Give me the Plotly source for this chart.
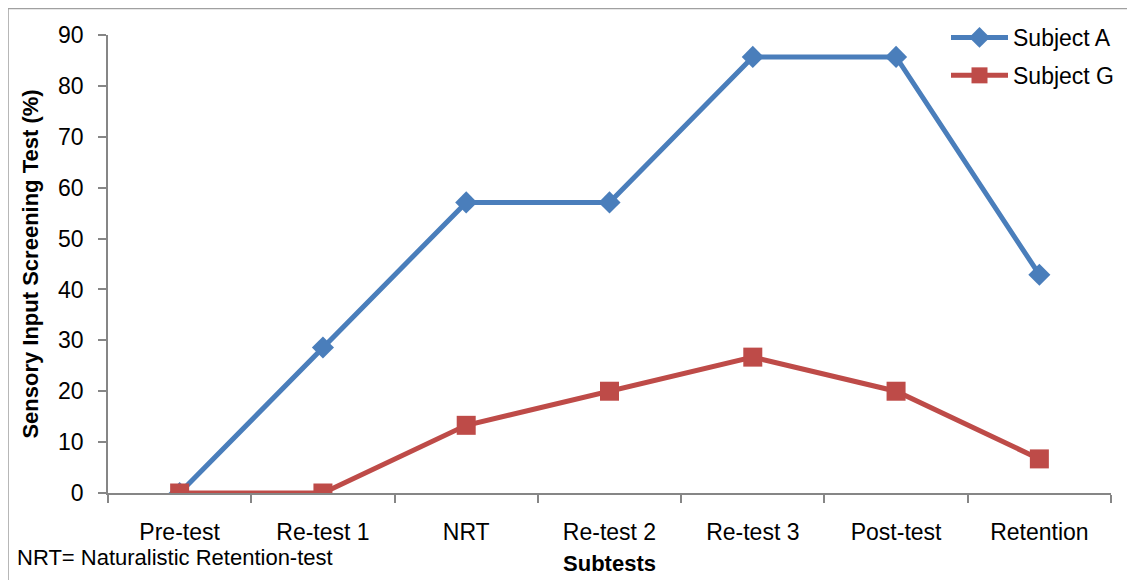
import plotly.graph_objects as go

categories = ["Pre-test", "Re-test 1", "NRT", "Re-test 2", "Re-test 3", "Post-test", "Retention"]
subject_a = [0, 28.6, 57.1, 57.1, 85.7, 85.7, 42.9]
subject_g = [0, 0, 13.3, 20.0, 26.7, 20.0, 6.7]
y_ticks = [0, 10, 20, 30, 40, 50, 60, 70, 80, 90]

FONT = "Liberation Sans"
# page has an 8px body margin, so the figure is drawn 8px smaller and offset
W, H = 1127, 572
L, R, T, B = 100, 24, 27, 87
pw, ph = W - L - R, H - T - B

def px(x):
    return (x - L) / pw

def py(y):
    return (H - B - y) / ph

fig = go.Figure()
fig.add_trace(go.Scatter(
    x=categories, y=subject_a, name="Subject A", mode="lines+markers",
    line=dict(color="#4A7EBB", width=5),
    marker=dict(symbol="diamond", size=17, color="#4A7EBB"),
    legendgroup="a",
))
fig.add_trace(go.Scatter(
    x=categories, y=subject_g, name="Subject G", mode="lines+markers",
    line=dict(color="#BE4B48", width=5),
    marker=dict(symbol="square", size=19, color="#BE4B48"),
    legendgroup="g",
))

fig.update_layout(
    width=W, height=H,
    margin=dict(l=L, r=R, t=T, b=B, autoexpand=False),
    paper_bgcolor="white", plot_bgcolor="white",
    font=dict(family=FONT, size=23, color="black"),
    showlegend=True,
    legend=dict(
        x=px(938), y=py(8), xanchor="left", yanchor="top",
        bgcolor="rgba(0,0,0,0)", itemwidth=57, tracegroupgap=5,
        font=dict(family=FONT, size=23),
    ),
    xaxis=dict(
        type="category", categoryorder="array", categoryarray=categories,
        showline=True, linecolor="#868686", linewidth=1.5,
        ticks="outside", tickson="boundaries", ticklen=8, tickcolor="#868686",
        tickwidth=1.5, showgrid=False, zeroline=False,
        ticklabelstandoff=18,
        range=[-0.5, 6.5],
        title=dict(text="<b>Subtests</b>", font=dict(size=22), standoff=11),
    ),
    yaxis=dict(
        range=[0, 90], tickvals=y_ticks, showline=True, linecolor="#868686",
        linewidth=1.5, ticks="outside", ticklen=8, tickcolor="#868686",
        tickwidth=1.5, showgrid=False, zeroline=False,
        ticklabelstandoff=10,
        title=dict(text="<b>Sensory Input Screening Test (%)</b>", font=dict(size=22), standoff=13),
    ),
)

fig.add_shape(type="rect", xref="paper", yref="paper",
              x0=px(0), x1=px(1124), y0=py(590), y1=py(0.5),
              line=dict(color="#A0A0A0", width=1.5), fillcolor="rgba(0,0,0,0)", layer="below")

fig.add_annotation(text="NRT= Naturalistic Retention-test", xref="paper", yref="paper",
                   x=px(7), y=py(549), xanchor="left", yanchor="middle",
                   showarrow=False, font=dict(family=FONT, size=22))

fig.write_html("out.html")
